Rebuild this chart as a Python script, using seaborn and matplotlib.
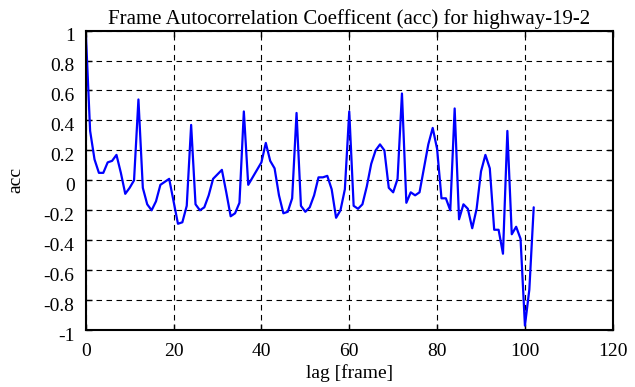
import matplotlib
matplotlib.use("Agg")
import matplotlib.pyplot as plt
import matplotlib.transforms as mtransforms
import seaborn as sns
import numpy as np
import pandas as pd
from matplotlib.ticker import FuncFormatter

lags = list(range(0, 103))
acc = [1.00, 0.33, 0.14, 0.05, 0.05, 0.12, 0.13, 0.17, 0.05, -0.09,
       -0.05, 0.00, 0.54, -0.05, -0.16, -0.20, -0.14, -0.03, -0.01, 0.01,
       -0.14, -0.29, -0.28, -0.17, 0.37, -0.16, -0.20, -0.18, -0.10, 0.01,
       0.04, 0.07, -0.08, -0.24, -0.22, -0.15, 0.46, -0.03, 0.02, 0.07,
       0.12, 0.25, 0.13, 0.08, -0.10, -0.22, -0.21, -0.12, 0.45, -0.17,
       -0.21, -0.18, -0.10, 0.02, 0.02, 0.03, -0.06, -0.25, -0.20, -0.06,
       0.46, -0.17, -0.19, -0.16, -0.04, 0.11, 0.20, 0.24, 0.20, -0.05,
       -0.08, 0.01, 0.58, -0.15, -0.08, -0.10, -0.08, 0.08, 0.24, 0.35,
       0.21, -0.12, -0.12, -0.20, 0.48, -0.26, -0.16, -0.19, -0.32, -0.19,
       0.06, 0.17, 0.08, -0.33, -0.33, -0.49, 0.33, -0.36, -0.31, -0.39,
       -0.97, -0.73, -0.18]

xticks = [0, 20, 40, 60, 80, 100, 120]
yticks = [-1, -0.8, -0.6, -0.4, -0.2, 0, 0.2, 0.4, 0.6, 0.8, 1]

df = pd.DataFrame({"lag": lags, "acc": acc})

sns.set_style("white")
plt.rcParams['font.family'] = ['Liberation Serif', 'DejaVu Serif']

fig = plt.figure(figsize=(6.35, 3.87), dpi=100)
ax = fig.add_axes([0.135, 0.147, 0.83, 0.774])
sns.lineplot(data=df, x="lag", y="acc", ax=ax, color="#0000ff", linewidth=1.6)

ax.set_xlim(0, 120)
ax.set_ylim(-1, 1)
ax.set_xticks(xticks)
ax.set_yticks(yticks)
ax.yaxis.set_major_formatter(FuncFormatter(lambda v, p: ("%g" % round(v, 1)).replace("\u2212", "-")))
ax.xaxis.set_major_formatter(FuncFormatter(lambda v, p: "%d" % v))
ax.grid(True, color="black", linestyle=(0, (5, 4)), linewidth=0.8)
for s in ax.spines.values():
    s.set_color("black")
    s.set_linewidth(1.5)
ax.tick_params(axis="both", direction="in", length=4, width=1, colors="black",
               labelsize=14, top=True, right=True, bottom=True, left=True)
ax.tick_params(axis="x", pad=9)
ax.tick_params(axis="y", pad=8)
offset = mtransforms.ScaledTranslation(0, -0.04, fig.dpi_scale_trans)
for lab in ax.get_yticklabels():
    lab.set_transform(lab.get_transform() + offset)
ax.set_xlabel("lag [frame]", fontsize=14, color="black", labelpad=3)
ax.set_ylabel("acc", fontsize=14, color="black", labelpad=14)
ax.set_title("Frame Autocorrelation Coefficent (acc) for highway-19-2", fontsize=15, color="black", pad=5)

fig.savefig("out.png", dpi=100)
